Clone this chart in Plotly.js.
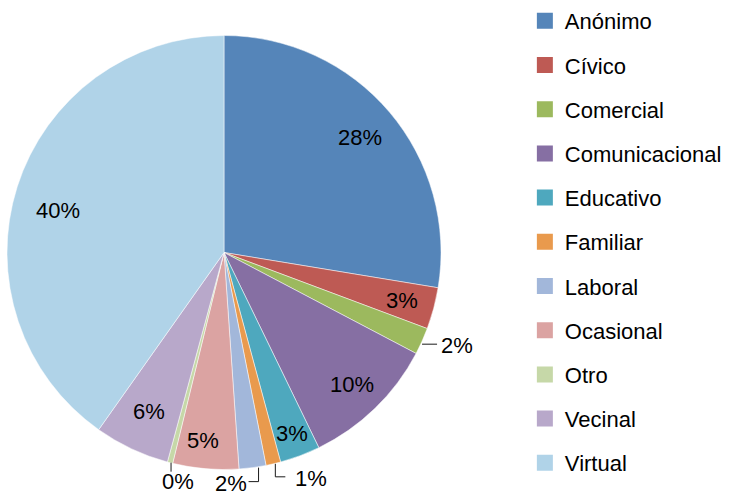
<!DOCTYPE html>
<html><head><meta charset="utf-8">
<script src="https://cdn.plot.ly/plotly-3.0.1.min.js"></script>
<style>html,body{margin:0;padding:0;background:#fff}#chart{width:730px;height:496px}</style>
</head><body><div id="chart"></div>
<script>
const categories = ["Anónimo","Cívico","Comercial","Comunicacional","Educativo","Familiar","Laboral","Ocasional","Otro","Vecinal","Virtual"];
const values = [27.6, 3.1, 2.0, 10.1, 3.0, 1.1, 2.0, 4.9, 0.4, 5.6, 40.2];
const colors = ["#5585B9","#BE5A54","#9CB95E","#866FA3","#4EA8BE","#E99A4D","#A2B7DA","#DBA3A2","#C6D8A8","#B8A8CA","#B0D3E8"];

// label styling: inside radius fraction (+ angular nudge in degrees), or outside leader style
const labelStyle = [
  {r: 0.82}, {r: 0.85}, {out: "h"}, {r: 0.85}, {r: 0.89},
  {out: "Lr"}, {out: "Ll"}, {r: 0.87, da: 1.5}, {out: "v"}, {r: 0.81}, {r: 0.79, da: -3.6}
];

const W = 730, H = 496;
const FONT = "Liberation Sans, Arial, sans-serif";
const FS = 22;
const dom = {x: [7/W, 441/W], y: [26.5/H, 460.5/H]};
const cx = (dom.x[0] + dom.x[1]) / 2 * W;
const cy = (1 - (dom.y[0] + dom.y[1]) / 2) * H;
const R = Math.min((dom.x[1]-dom.x[0]) * W, (dom.y[1]-dom.y[0]) * H) / 2;

const traces = [{
  type: "pie",
  labels: categories,
  values: values,
  sort: false,
  direction: "clockwise",
  rotation: 0,
  marker: {colors: colors, line: {color: "#ffffff", width: 0.5}},
  textinfo: "none",
  domain: dom,
  showlegend: false,
  hoverinfo: "label+percent"
}];
categories.forEach((c, i) => {
  traces.push({
    type: "scatter", mode: "markers", x: [null], y: [null],
    name: c, legendgroup: "g" + i,
    marker: {symbol: "square", size: 16, color: colors[i]},
    hoverinfo: "skip"
  });
});

const total = values.reduce((a, b) => a + b, 0);
const px = x => x / W, py = y => 1 - y / H;
const annotations = [], shapes = [];
let cum = 0;
values.forEach((v, i) => {
  const st = labelStyle[i];
  const mid = (cum + v / 2) / total * 2 * Math.PI + (st.da || 0) * Math.PI / 180;
  cum += v;
  const txt = Math.round(v / total * 100) + "%";
  const base = {text: txt, showarrow: false, xref: "paper", yref: "paper",
    font: {family: FONT, size: FS, color: "#000"}};
  if (st.r) {
    const x = cx + st.r * R * Math.sin(mid), y = cy - st.r * R * Math.cos(mid);
    annotations.push(Object.assign({x: px(x), y: py(y), xanchor: "center", yanchor: "middle"}, base));
  } else {
    const ex = cx + R * Math.sin(mid), ey = cy - R * Math.cos(mid);
    let path, tx, ty, xa;
    if (st.out === "h") {
      path = [[ex, ey + 3], [ex + 15, ey + 3]]; tx = ex + 17; ty = ey + 4; xa = "left";
    } else if (st.out === "Lr") {
      path = [[ex + 2, ey], [ex + 2, ey + 13], [ex + 12, ey + 13]]; tx = ex + 20; ty = ey + 15; xa = "left";
    } else if (st.out === "Ll") {
      path = [[ex + 6, ey], [ex + 6, ey + 14], [ex - 4, ey + 14]]; tx = ex - 4; ty = ey + 16; xa = "right";
    } else {
      path = [[ex + 1, ey], [ex + 1, ey + 9]]; tx = ex + 8; ty = ey + 19; xa = "center";
    }
    const d = path.map((p, k) => (k ? "L" : "M") + px(p[0]) + "," + py(p[1])).join(" ");
    shapes.push({type: "path", xref: "paper", yref: "paper", path: d,
      line: {color: "#1a1a1a", width: 1}});
    annotations.push(Object.assign({x: px(tx), y: py(ty), xanchor: xa, yanchor: "middle"}, base));
  }
});

const layout = {
  width: W, height: H,
  margin: {l: 0, r: 0, t: 0, b: 0},
  paper_bgcolor: "#fff", plot_bgcolor: "#fff",
  xaxis: {visible: false}, yaxis: {visible: false},
  showlegend: true,
  legend: {
    x: 0.719, y: 1.0, xanchor: "left", yanchor: "top",
    traceorder: "grouped", tracegroupgap: 12.6,
    font: {family: FONT, size: FS, color: "#000"},
    bgcolor: "rgba(0,0,0,0)"
  },
  annotations: annotations,
  shapes: shapes,
  font: {family: FONT}
};
Plotly.newPlot("chart", traces, layout, {displayModeBar: false, staticPlot: true});
</script></body></html>
